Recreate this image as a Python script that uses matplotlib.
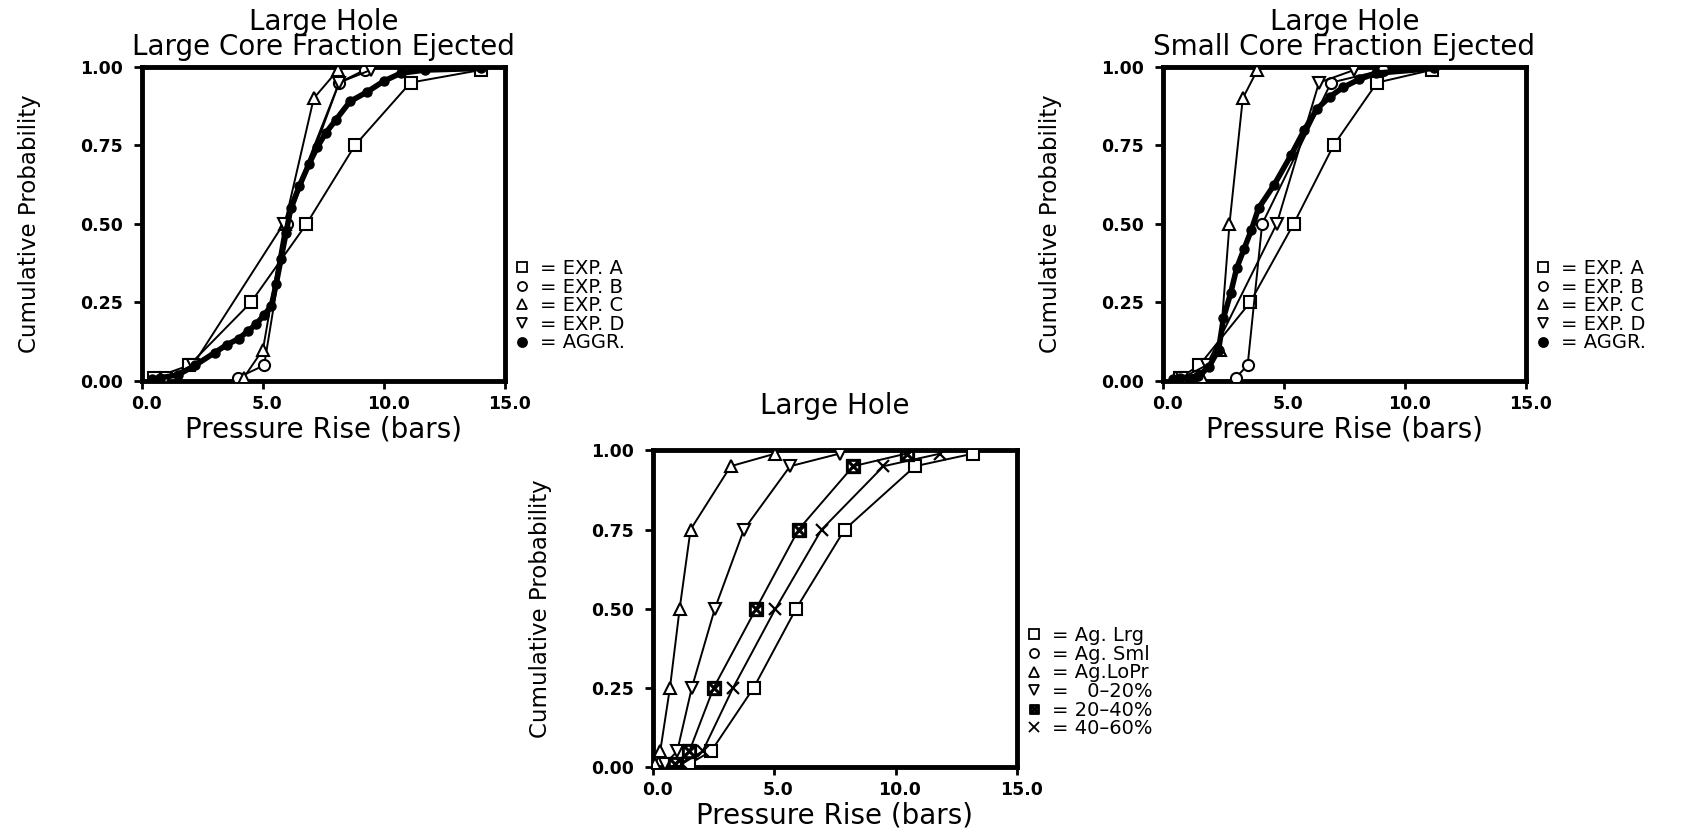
import matplotlib
matplotlib.use("Agg")
import matplotlib.pyplot as plt
import matplotlib.transforms as mtransforms
from matplotlib.lines import Line2D

# cumulative probability levels
probs7 = [0.01, 0.05, 0.25, 0.50, 0.75, 0.95, 0.99]
probs_bd = [0.01, 0.05, 0.50, 0.95, 0.99]
probs_c = [0.01, 0.10, 0.50, 0.90, 0.99]

# Large hole, large core fraction ejected (pressure rise, bars)
lcf_exp_a = [0.5, 1.95, 4.5, 6.8, 8.8, 11.1, 14.0]
lcf_exp_b = [3.95, 5.05, 6.0, 8.15, 9.2]
lcf_exp_c = [4.2, 5.0, 5.9, 7.1, 8.1]
lcf_exp_d = [1.0, 2.1, 5.85, 8.15, 9.45]
lcf_aggr_x = [0.4, 0.75, 1.5, 2.2, 3.0, 3.5, 4.0, 4.4, 4.7, 5.05, 5.35, 5.55, 5.75,
              5.95, 6.15, 6.5, 6.9, 7.25, 7.6, 8.0, 8.6, 9.3, 10.0, 10.7, 11.7, 14.0]
lcf_aggr_p = [0.005, 0.01, 0.02, 0.05, 0.09, 0.115, 0.135, 0.16, 0.18, 0.21, 0.24, 0.31, 0.39,
              0.47, 0.55, 0.62, 0.69, 0.745, 0.79, 0.83, 0.89, 0.92, 0.955, 0.98, 0.99, 0.995]

# Large hole, small core fraction ejected
scf_exp_a = [0.7, 1.5, 3.6, 5.4, 7.05, 8.85, 11.1]
scf_exp_b = [3.0, 3.5, 4.1, 6.95, 9.1]
scf_exp_c = [1.6, 2.35, 2.75, 3.3, 3.9]
scf_exp_d = [0.8, 1.8, 4.7, 6.45, 7.9]
scf_aggr_x = [0.4, 0.7, 1.45, 1.9, 2.3, 2.5, 2.8, 3.05, 3.35, 3.65, 3.95, 4.6, 5.3,
              5.85, 6.35, 6.9, 7.45, 8.1, 8.8, 11.2]
scf_aggr_p = [0.005, 0.01, 0.015, 0.045, 0.1, 0.2, 0.28, 0.36, 0.42, 0.48, 0.55, 0.625, 0.72,
              0.8, 0.865, 0.905, 0.935, 0.96, 0.98, 0.995]

# Large hole, aggregate comparison
ag_lrg = [1.5, 2.4, 4.15, 5.9, 7.9, 10.8, 13.2]
ag_lopr = [0.1, 0.3, 0.7, 1.1, 1.55, 3.2, 5.05]
pct_0_20 = [0.5, 1.0, 1.6, 2.55, 3.75, 5.65, 7.7]
pct_20_40 = [0.9, 1.5, 2.5, 4.25, 6.0, 8.25, 10.45]
pct_40_60 = [1.2, 2.05, 3.3, 5.05, 6.95, 9.5, 11.85]

exp_labels = ["EXP. A", "EXP. B", "EXP. C", "EXP. D", "AGGR."]
bot_labels = ["Ag. Lrg", "Ag. Sml", "Ag.LoPr", "  0\u201320%", "20\u201340%", "40\u201360%"]

BOX = "$\\boxtimes$"


def open_line(ax, x, p, marker, ms=8):
    ax.plot(x, p, color="black", lw=1.4, marker=marker, ms=ms,
            mfc="white", mec="black", mew=1.5, zorder=3)


def setup(ax, title, pad):
    ax.set_xlim(0, 15)
    ax.set_ylim(0, 1)
    ax.set_xticks([0, 5, 10, 15])
    ax.set_xticklabels(["0.0", "5.0", "10.0", "15.0"])
    ax.set_yticks([0, 0.25, 0.5, 0.75, 1.0])
    ax.set_yticklabels(["0.00", "0.25", "0.50", "0.75", "1.00"])
    for s in ax.spines.values():
        s.set_linewidth(3.5)
    ax.tick_params(direction="out", length=6, width=2, labelsize=12.5)
    ax.tick_params(axis="x", pad=4)
    ax.tick_params(axis="y", pad=8)
    # labels in the original sit a little right of their ticks
    shift = mtransforms.ScaledTranslation(3 / 72, 0, ax.figure.dpi_scale_trans)
    for t in ax.get_xticklabels():
        t.set_transform(t.get_transform() + shift)
    for t in ax.get_xticklabels() + ax.get_yticklabels():
        t.set_fontweight("bold")
    ax.set_xlabel("Pressure Rise (bars)", fontsize=20, labelpad=2)
    ax.set_ylabel("Cumulative Probability", fontsize=16.5, labelpad=28)
    ax.set_title(title, fontsize=20, linespacing=0.85, pad=pad)


def legend(ax, markers, labels, fills, y0):
    handles = []
    for m, lab, f in zip(markers, labels, fills):
        handles.append(Line2D([], [], ls="none", marker=m, ms=6.5, mew=1.3,
                              mfc="black" if f else "white", mec="black",
                              label="= " + lab))
    ax.legend(handles=handles, loc="lower left", bbox_to_anchor=(1.0, y0),
              frameon=False, fontsize=14, handlelength=0.8, handletextpad=0.5,
              labelspacing=-0.02, borderaxespad=0.3, borderpad=0.2)


fig = plt.figure(figsize=(16.96, 8.31), dpi=100)
ax1 = fig.add_axes([0.0837, 0.5415, 0.214, 0.378])
ax2 = fig.add_axes([0.6857, 0.5415, 0.214, 0.378])
ax3 = fig.add_axes([0.385, 0.077, 0.2146, 0.381])

exp_markers = ["s", "o", "^", "v", "o"]

# top left
setup(ax1, "Large Hole\nLarge Core Fraction Ejected", 8.5)
open_line(ax1, lcf_exp_a, probs7, "s")
open_line(ax1, lcf_exp_b, probs_bd, "o")
open_line(ax1, lcf_exp_c, probs_c, "^")
open_line(ax1, lcf_exp_d, probs_bd, "v")
ax1.plot(lcf_aggr_x, lcf_aggr_p, color="black", lw=4, marker="o", ms=6.5, zorder=4)
legend(ax1, exp_markers, exp_labels, [0, 0, 0, 0, 1], 0.06)

# top right
setup(ax2, "Large Hole\nSmall Core Fraction Ejected", 8.5)
open_line(ax2, scf_exp_a, probs7, "s")
open_line(ax2, scf_exp_b, probs_bd, "o")
open_line(ax2, scf_exp_c, probs_c, "^")
open_line(ax2, scf_exp_d, probs_bd, "v")
ax2.plot(scf_aggr_x, scf_aggr_p, color="black", lw=4, marker="o", ms=6.5, zorder=4)
legend(ax2, exp_markers, exp_labels, [0, 0, 0, 0, 1], 0.06)

# bottom
setup(ax3, "Large Hole", 26)
open_line(ax3, ag_lrg, probs7, "s")
open_line(ax3, ag_lopr, probs7, "^")
open_line(ax3, pct_0_20, probs7, "v")
ax3.plot(pct_20_40, probs7, color="black", lw=1.4, marker=BOX, ms=10, zorder=3)
ax3.plot(pct_40_60, probs7, color="black", lw=1.4, marker="x", ms=8, mew=1.6, zorder=3)
legend(ax3, ["s", "o", "^", "v", BOX, "x"], bot_labels, [0, 0, 0, 0, 0, 0], 0.06)

fig.savefig("out.png", dpi=100)
